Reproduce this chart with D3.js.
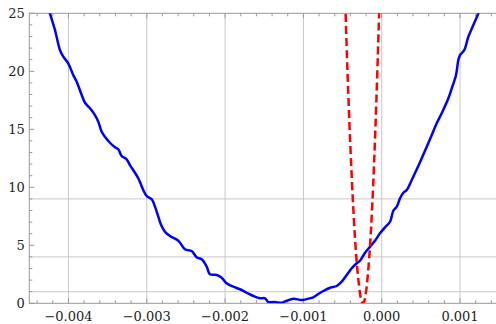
<!DOCTYPE html>
<html>
<head>
<meta charset="utf-8">
<script src="https://cdn.jsdelivr.net/npm/d3@7"></script>
<style>
  html, body { margin: 0; padding: 0; background: #fff; }
  svg { display: block; }
</style>
</head>
<body>
<div id="chart"></div>
<script>
// blue curve
const blueX = [-0.00428, -0.004236, -0.004172, -0.004109, -0.004066, -0.004003, -0.003939, -0.003895, -0.003831, -0.003789,
  -0.003725, -0.003662, -0.003619, -0.003576, -0.003534, -0.00347, -0.003406, -0.003364, -0.003321, -0.003257,
  -0.003215, -0.003109, -0.003045, -0.003001, -0.002937, -0.002895, -0.002853, -0.002822, -0.002768, -0.002704,
  -0.002598, -0.002512, -0.002427, -0.002363, -0.002299, -0.002235, -0.002193, -0.002107, -0.002043, -0.00198,
  -0.001895, -0.00181, -0.001724, -0.00164, -0.001554, -0.00149, -0.001448, -0.001363, -0.001277, -0.001213,
  -0.001129, -0.001022, -0.000937, -0.000874, -0.00081, -0.000746, -0.00066, -0.000575, -0.000511, -0.000447,
  -0.000383, -0.000319, -0.000277, -0.000213, -0.000149, -0.000086, -0.000022, 0.000042, 0.000106, 0.000148,
  0.000192, 0.000234, 0.000276, 0.000319, 0.000383, 0.000467, 0.000511, 0.000575, 0.000639, 0.000702,
  0.000766, 0.000851, 0.000894, 0.000949, 0.000978, 0.001, 0.001055, 0.001106, 0.00117, 0.001234, 0.00127];
const blueY = [26.2, 25.0, 23.56, 21.84, 21.26, 20.69, 19.68, 19.10, 17.96, 17.29,
  16.81, 16.23, 15.66, 14.79, 14.36, 13.84, 13.45, 13.28, 12.70, 12.41,
  11.92, 10.78, 9.77, 9.25, 8.97, 8.33, 7.47, 6.84, 6.17, 5.80,
  5.40, 4.66, 4.51, 3.97, 3.79, 3.16, 2.50, 2.44, 2.21, 1.72,
  1.43, 1.21, 0.91, 0.63, 0.43, 0.43, 0.11, 0.11, 0.05, 0.22,
  0.40, 0.28, 0.40, 0.52, 0.80, 1.06, 1.34, 1.49, 1.86, 2.44,
  3.02, 3.45, 3.67, 4.36, 4.88, 5.40, 6.03, 6.55, 7.03, 7.98,
  8.33, 9.05, 9.53, 9.77, 10.63, 11.84, 12.50, 13.50, 14.51, 15.52,
  16.38, 17.67, 18.53, 19.68, 20.97, 21.40, 21.84, 22.98, 23.99, 25.0, 25.8];

// red dashed curve
const redX = [-0.00047, -0.00044, -0.00040, -0.00036, -0.00032, -0.00028, -0.00026, -0.00024,
  -0.00022, -0.00020, -0.00016, -0.00012, -0.00008, -0.00004, -0.00002];
const redY = [27, 20.5, 13.5, 7.8, 3.6, 1.0, 0.25, 0, 0.25, 1.0, 3.9, 8.6, 15.2, 23.5, 28.5];

const xMajor = [-0.004, -0.003, -0.002, -0.001, 0, 0.001];
const xLabels = ['\u22120.004', '\u22120.003', '\u22120.002', '\u22120.001', '0.000', '0.001'];
const yMajor = [0, 5, 10, 15, 20, 25];
const xGrid = [-0.004, -0.003, -0.002, -0.001, 0, 0.001];
const yGrid = [1, 4, 9];

const width = 496, height = 324;
const pLeft = 29.3, pRight = 499.2, pTop = 13.3, pBottom = 303.3;

const x = d3.scaleLinear().domain([-0.0045, 0.0015]).range([pLeft, pRight]);
const y = d3.scaleLinear().domain([0, 25]).range([pBottom, pTop]);

const svg = d3.select('#chart').append('svg')
  .attr('width', width)
  .attr('height', height);

svg.append('defs').append('clipPath').attr('id', 'clip')
  .append('rect')
  .attr('x', pLeft).attr('y', pTop)
  .attr('width', pRight - pLeft).attr('height', pBottom - pTop);

// grid
const grid = svg.append('g').attr('stroke', '#c8c8c8').attr('stroke-width', 1);
grid.selectAll('.gx').data(xGrid).join('line')
  .attr('x1', d => x(d)).attr('x2', d => x(d))
  .attr('y1', pTop).attr('y2', pBottom);
grid.selectAll('.gy').data(yGrid).join('line')
  .attr('x1', pLeft).attr('x2', pRight)
  .attr('y1', d => y(d)).attr('y2', d => y(d));

// ticks (inside the frame, mirrored on top)
const isMajorX = d => Math.abs(d * 1000 - Math.round(d * 1000)) < 1e-6;
const xMinor = d3.range(-22, 8).map(i => i * 0.0002).filter(d => d >= -0.0045 && d <= 0.0015);
const yMinor = d3.range(0, 26);
const ticks = svg.append('g').attr('stroke', '#999').attr('stroke-width', 1);
ticks.selectAll('.xb').data(xMinor).join('line')
  .attr('x1', d => x(d)).attr('x2', d => x(d))
  .attr('y1', pBottom).attr('y2', d => pBottom - (isMajorX(d) ? 5 : 3));
ticks.selectAll('.xt').data(xMinor).join('line')
  .attr('x1', d => x(d)).attr('x2', d => x(d))
  .attr('y1', pTop).attr('y2', d => pTop + (isMajorX(d) ? 5 : 3));
ticks.selectAll('.yl').data(yMinor).join('line')
  .attr('x1', pLeft).attr('x2', d => pLeft + (d % 5 === 0 ? 5 : 3))
  .attr('y1', d => y(d)).attr('y2', d => y(d));

// frame
svg.append('rect')
  .attr('x', pLeft).attr('y', pTop)
  .attr('width', pRight - pLeft).attr('height', pBottom - pTop)
  .attr('fill', 'none').attr('stroke', '#999').attr('stroke-width', 1);

// labels
const font = "'DejaVu Serif', 'Liberation Serif', serif";
svg.append('g').selectAll('text').data(xMajor).join('text')
  .attr('x', d => x(d)).attr('y', pBottom + 17.4)
  .attr('text-anchor', 'middle')
  .attr('font-family', font).attr('font-size', 13).attr('fill', '#222')
  .text((d, i) => xLabels[i]);
svg.append('g').selectAll('text').data(yMajor).join('text')
  .attr('x', pLeft - 4.5).attr('y', d => y(d)).attr('dy', '0.36em')
  .attr('text-anchor', 'end')
  .attr('font-family', font).attr('font-size', 13).attr('fill', '#222')
  .text(d => d);

// curves
const line = d3.line()
  .x(d => x(d[0])).y(d => y(d[1]))
  .curve(d3.curveCatmullRom);

const plot = svg.append('g').attr('clip-path', 'url(#clip)');
plot.append('path')
  .datum(blueX.map((v, i) => [v, blueY[i]]))
  .attr('d', line)
  .attr('fill', 'none').attr('stroke', '#0000ff').attr('stroke-width', 2.5)
  .attr('stroke-linejoin', 'round');
plot.append('path')
  .datum(redX.map((v, i) => [v, redY[i]]))
  .attr('d', line)
  .attr('fill', 'none').attr('stroke', '#ff0000').attr('stroke-width', 2.5)
  .attr('stroke-dasharray', '8,4');
</script>
</body>
</html>
